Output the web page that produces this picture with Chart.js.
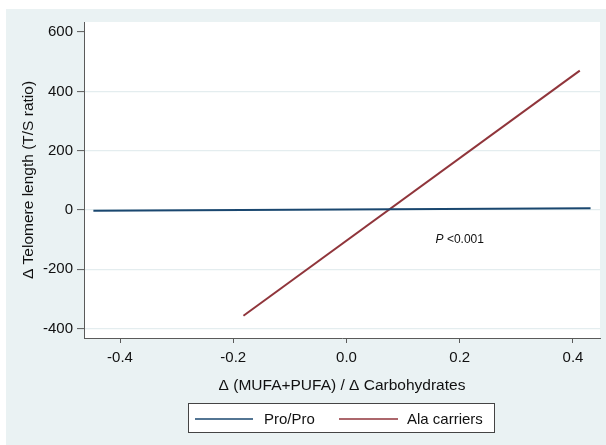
<!DOCTYPE html>
<html>
<head>
<meta charset="utf-8">
<script src="https://cdn.jsdelivr.net/npm/chart.js@4"></script>
<style>
  html, body { margin: 0; padding: 0; background: #fff; }
  #wrap { width: 606px; height: 445px; }
</style>
</head>
<body>
<div id="wrap"><canvas id="chart" width="606" height="445"></canvas></div>
<script>
// Fitted lines
const seriesLabels = ['Pro/Pro', 'Ala carriers'];
const proX = [-0.447, 0.431];
const proY = [-2.4, 5.4];
const alaX = [-0.182, 0.412];
const alaY = [-357, 470];

const xTicks = [-0.4, -0.2, 0.0, 0.2, 0.4];
const yTicks = [-400, -200, 0, 200, 400, 600];
const xRange = [-0.4636, 0.4477];
const yRange = [-432, 634];

const pNote = { x: 0.2, y: -100 };

const BLUE = '#1a476f';
const RED = '#90353b';
const PANEL = '#eaf2f3';
const AXIS = '#5a5a5a';
const FONT = '"Liberation Sans", Arial, sans-serif';

const toPoints = (xs, ys) => xs.map((x, i) => ({ x: x, y: ys[i] }));

// Panel background + white plot region
const backdrop = {
    id: 'backdrop',
    beforeDraw(chart) {
        const { ctx, chartArea: a } = chart;
        ctx.save();
        ctx.fillStyle = '#fff';
        ctx.fillRect(0, 0, chart.width, chart.height);
        ctx.fillStyle = PANEL;
        ctx.fillRect(6, 9, 600, 436);
        ctx.fillStyle = '#fff';
        ctx.fillRect(a.left, a.top, a.right - a.left, a.bottom - a.top);
        ctx.restore();
    }
};

// P-value note and boxed legend
const extras = {
    id: 'extras',
    afterDraw(chart) {
        const { ctx } = chart;
        const xs = chart.scales.x, ys = chart.scales.y;
        ctx.save();
        const px = xs.getPixelForValue(pNote.x);
        const py = ys.getPixelForValue(pNote.y);
        ctx.fillStyle = '#111';
        ctx.textBaseline = 'middle';
        ctx.font = 'italic 12px ' + FONT;
        const pw = ctx.measureText('P').width;
        ctx.font = '12px ' + FONT;
        const rest = ' <0.001';
        const rw = ctx.measureText(rest).width;
        let sx = px - (pw + rw) / 2;
        ctx.font = 'italic 12px ' + FONT;
        ctx.textAlign = 'left';
        ctx.fillText('P', sx, py);
        ctx.font = '12px ' + FONT;
        ctx.fillText(rest, sx + pw, py);

        // legend
        ctx.fillStyle = '#fff';
        ctx.fillRect(188.5, 403.5, 306, 29);
        ctx.strokeStyle = '#444';
        ctx.lineWidth = 1;
        ctx.strokeRect(188.5, 403.5, 306, 29);
        const items = [
            { x0: 195, x1: 253, tx: 264 },
            { x0: 339, x1: 398, tx: 407 }
        ];
        ctx.font = '15px ' + FONT;
        ctx.textBaseline = 'middle';
        chart.data.datasets.forEach((ds, i) => {
            const it = items[i];
            ctx.strokeStyle = ds.borderColor;
            ctx.lineWidth = 1.5;
            ctx.beginPath();
            ctx.moveTo(it.x0, 419);
            ctx.lineTo(it.x1, 419);
            ctx.stroke();
            ctx.fillStyle = '#111';
            ctx.fillText(ds.label, it.tx, 419.5);
        });
        ctx.restore();
    }
};

new Chart(document.getElementById('chart'), {
    type: 'scatter',
    data: {
        datasets: [
            { label: seriesLabels[0], data: toPoints(proX, proY), borderColor: BLUE, backgroundColor: BLUE, showLine: true, pointRadius: 0, borderWidth: 2 },
            { label: seriesLabels[1], data: toPoints(alaX, alaY), borderColor: RED, backgroundColor: RED, showLine: true, pointRadius: 0, borderWidth: 2 }
        ]
    },
    options: {
        responsive: false,
        animation: false,
        events: [],
        layout: { padding: { left: 0, right: 6, top: 22, bottom: 0 } },
        plugins: { legend: { display: false }, tooltip: { enabled: false } },
        scales: {
            x: {
                type: 'linear',
                min: xRange[0], max: xRange[1],
                afterBuildTicks: s => { s.ticks = xTicks.map(v => ({ value: v })); },
                afterFit: s => { s.height = 107; },
                grid: { drawOnChartArea: false, tickLength: 5, tickColor: AXIS, tickWidth: 1 },
                border: { color: AXIS, width: 1 },
                ticks: { color: '#111', padding: 6, font: { family: FONT, size: 15 }, callback: v => v.toFixed(1), maxRotation: 0 },
                title: { display: true, text: 'Δ (MUFA+PUFA) / Δ Carbohydrates', color: '#111', font: { family: FONT, size: 15.5 }, padding: { top: 0, bottom: 49.7 } }
            },
            y: {
                type: 'linear',
                min: yRange[0], max: yRange[1],
                afterBuildTicks: s => { s.ticks = yTicks.map(v => ({ value: v })); },
                afterFit: s => { s.width = 84; },
                grid: {
                    color: c => (c.tick && c.tick.value === 600) ? 'rgba(0,0,0,0)' : '#e4edef',
                    lineWidth: 1.2,
                    tickLength: 7, tickColor: AXIS, tickWidth: 1
                },
                border: { color: AXIS, width: 1 },
                ticks: { color: '#111', padding: 4, font: { family: FONT, size: 15 } },
                title: { display: true, text: 'Δ Telomere length (T/S ratio)', color: '#111', font: { family: FONT, size: 15.5 }, padding: { top: 19.7, bottom: 0 } }
            }
        }
    },
    plugins: [backdrop, extras]
});
</script>
</body>
</html>
